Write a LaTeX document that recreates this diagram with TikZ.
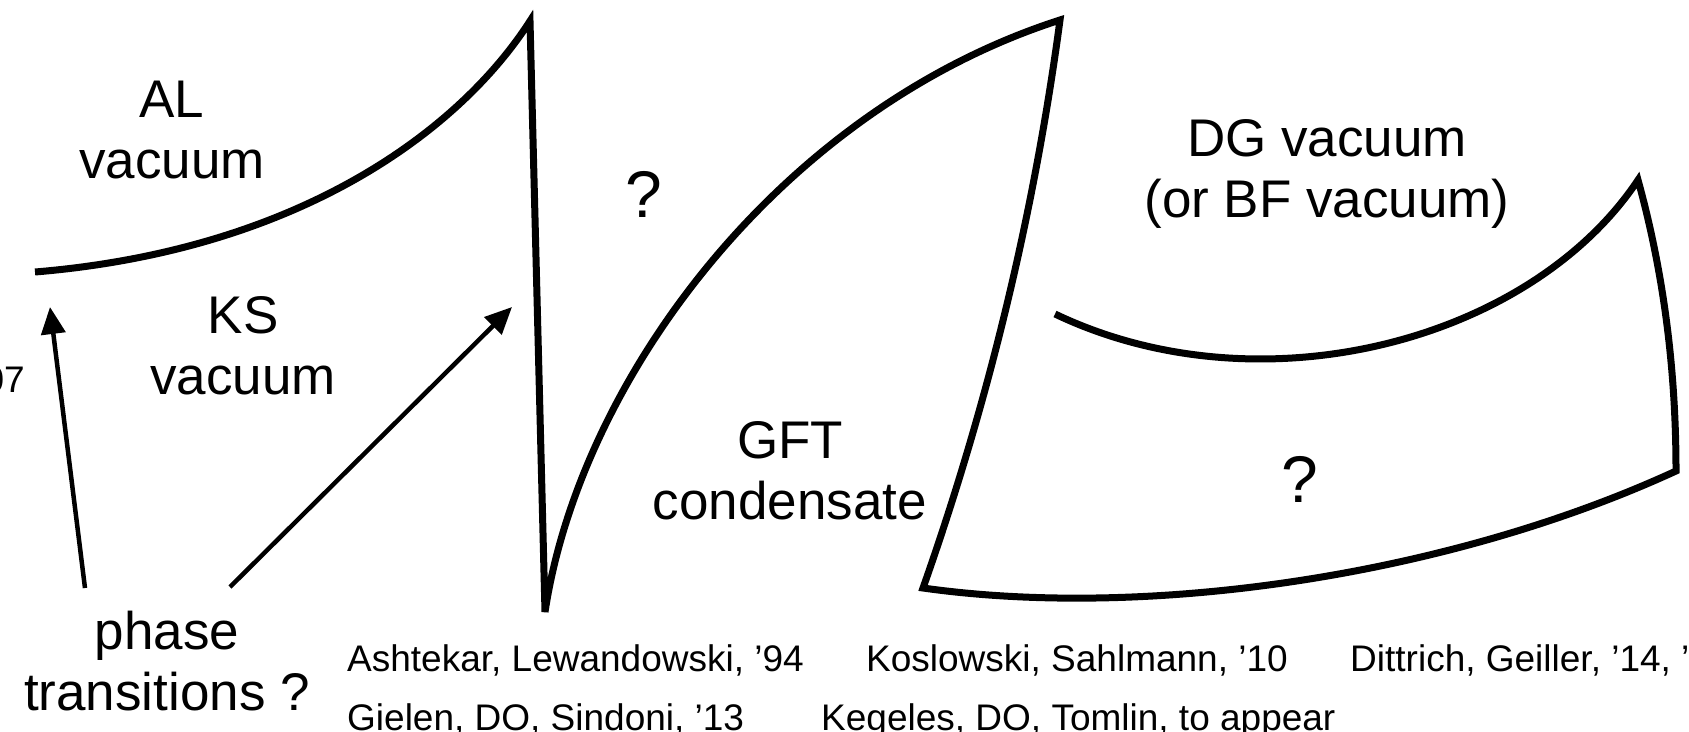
\documentclass[tikz,border=0pt]{standalone}
\usepackage{fontspec}
\setmainfont{Liberation Sans}
\usetikzlibrary{arrows.meta}
\begin{document}
\begin{tikzpicture}[x=1bp,y=-1bp,
  big/.style={font=\fontsize{53bp}{61bp}\selectfont, align=center, inner sep=0pt},
  qmark/.style={font=\fontsize{66bp}{70bp}\selectfont, inner sep=0pt},
  small/.style={font=\fontsize{37bp}{44bp}\selectfont, inner sep=0pt},
  outline/.style={line width=7bp, line join=miter},
  arr/.style={line width=4.5bp, -{Triangle[length=27bp,width=24bp]}}]
\useasboundingbox (0,0) rectangle (1689,732);
\coordinate (p0) at (35,272);
\coordinate (p1) at (530,21);
\coordinate (p2) at (545,612);
\coordinate (p3) at (1060,20);
\coordinate (p4) at (923,588);
\coordinate (p5) at (1676,471);
\coordinate (p6) at (1638,180);
\coordinate (p7) at (1055,314);
\draw[outline] (p0) .. controls (300,250) and (460,130) .. (p1) -- (p2)
  .. controls (580,380) and (780,110) .. (p3)
  .. controls (1034,214) and (988,404) .. (p4)
  .. controls (1150,620) and (1450,575) .. (p5)
  .. controls (1676,371) and (1664,274) .. (p6)
  .. controls (1530,342) and (1260,412) .. (p7);
\node[big, anchor=north] (al) at (172,81) {AL\\vacuum};
\node[big, anchor=north] (ks) at (243,296) {KS\\vacuum};
\node[qmark] (q1) at (644,194) {?};
\node[big, anchor=north] (gft) at (790,421) {GFT\\condensate};
\node[big, anchor=north] (dg) at (1327,119) {DG vacuum\\(or BF vacuum)};
\node[qmark] (q2) at (1300,479) {?};
\node[big, anchor=north] (pt) at (167,611) {phase\\transitions ?};
\node[small, anchor=base west] (r1) at (347,671) {Ashtekar, Lewandowski, ’94};
\node[small, anchor=base west] (r2) at (866,671) {Koslowski, Sahlmann, ’10};
\node[small, anchor=base west] (r3) at (1350,671) {Dittrich, Geiller, ’14, ’};
\node[small, anchor=base west] (r4) at (347,730) {Gielen, DO, Sindoni, ’13};
\node[small, anchor=base west] (r5) at (821,730) {Kegeles, DO, Tomlin, to appear};
\node[small, anchor=base east] (r6) at (25,392) {07};
\coordinate (t1) at (85,588);
\coordinate (h1) at (50,307);
\coordinate (t2) at (230,587);
\coordinate (h2) at (512,307);
\draw[arr] (t1) -- (h1);
\draw[arr] (t2) -- (h2);
\end{tikzpicture}
\end{document}
